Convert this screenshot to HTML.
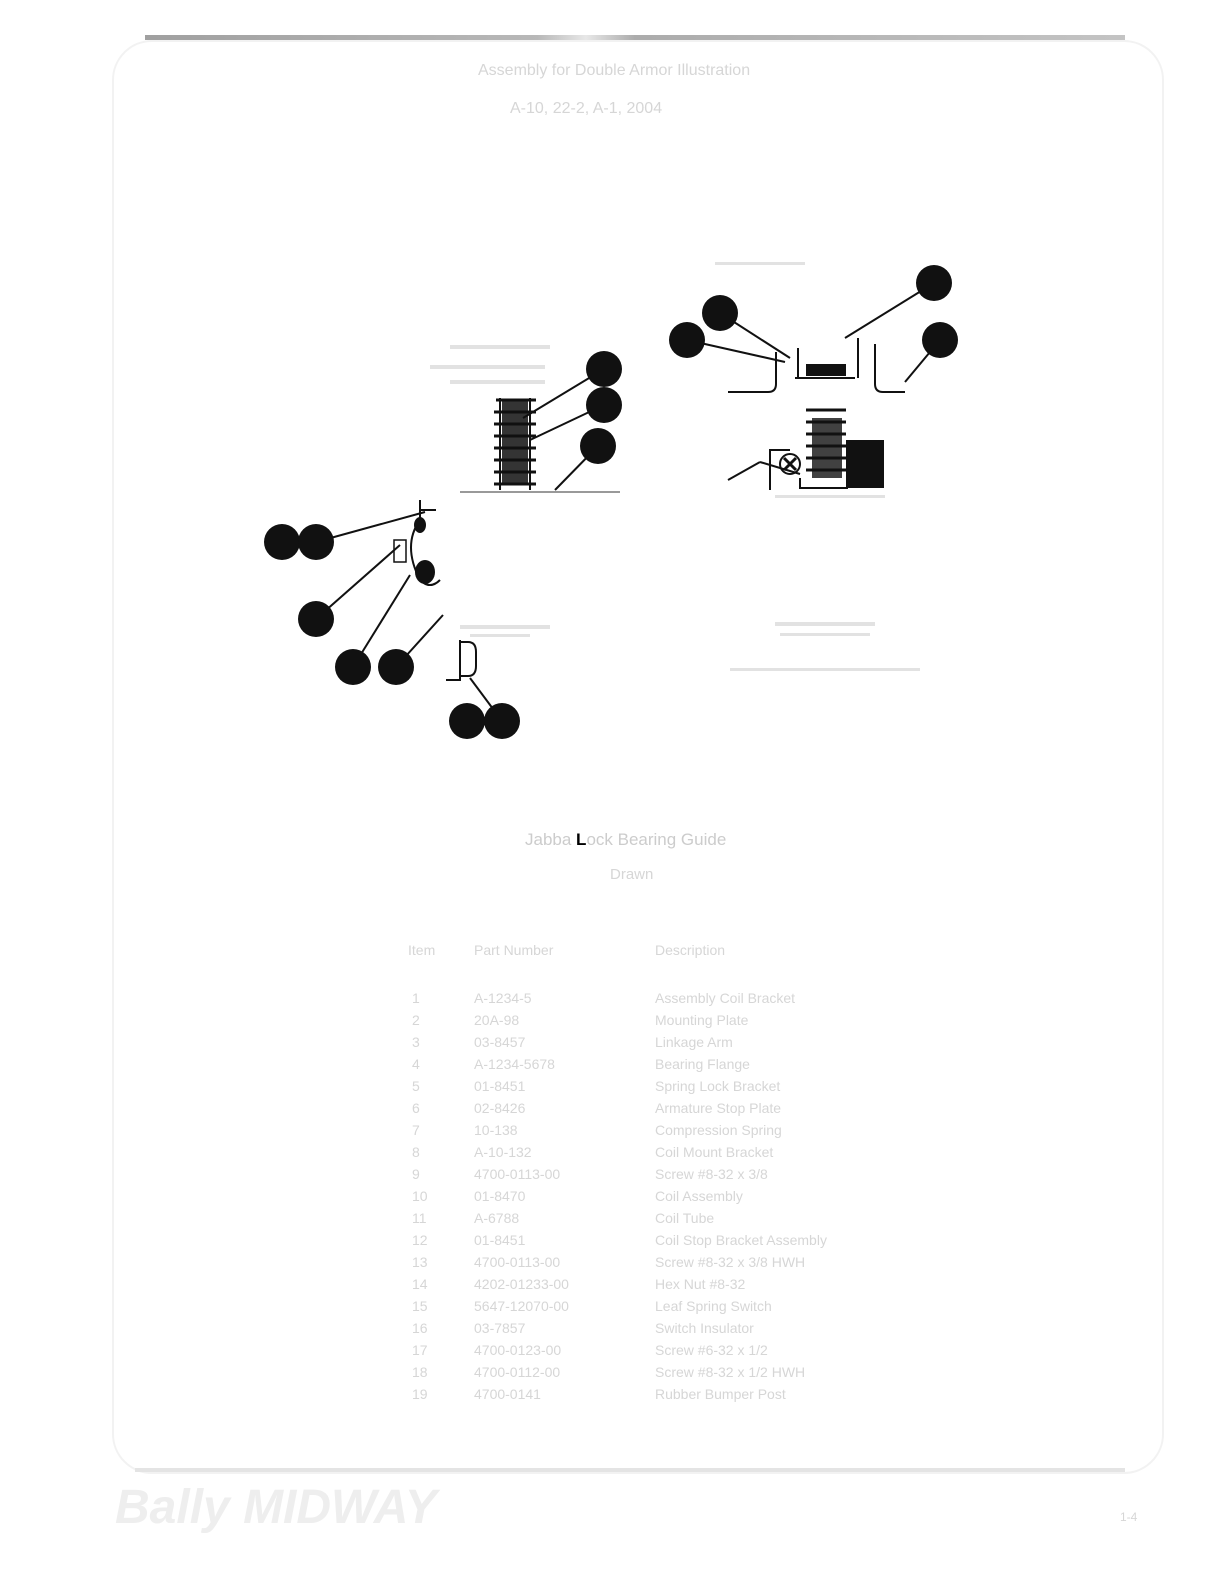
<!DOCTYPE html>
<html><head><meta charset="utf-8">
<style>
html,body{margin:0;padding:0;background:#fff;}
body{width:1224px;height:1584px;position:relative;overflow:hidden;font-family:"Liberation Sans",sans-serif;}
.t{position:absolute;color:#d6d6d6;font-size:14px;white-space:nowrap;}
</style></head><body>
<div style="position:absolute;left:112px;top:40px;width:1048px;height:1430px;border:2px solid #f2f2f2;border-radius:40px;"></div>
<div style="position:absolute;left:145px;top:35px;width:980px;height:5px;background:linear-gradient(90deg,#777 0,#999 40%,#ddd 45%,#888 50%,#aaa 100%);opacity:.7"></div>
<div style="position:absolute;left:135px;top:1468px;width:990px;height:4px;background:#e4e4e4;"></div>
<div class="t" style="left:478px;top:62px;font-size:16px;">Assembly for Double Armor Illustration</div>
<div class="t" style="left:510px;top:100px;font-size:16px;">A-10, 22-2, A-1, 2004</div>
<div class="t" style="left:525px;top:830px;font-size:17px;color:#ccc">Jabba <b style="color:#000">L</b>ock Bearing Guide</div>
<div class="t" style="left:610px;top:866px;font-size:15px;">Drawn</div>
<div class="t" style="left:408px;top:942px;">Item</div>
<div class="t" style="left:474px;top:942px;">Part Number</div>
<div class="t" style="left:655px;top:942px;">Description</div>
<div id="rows"></div>
<div class="t" style="left:115px;top:1480px;font-size:48px;font-style:italic;color:#eee;font-weight:bold;">Bally MIDWAY</div>
<div class="t" style="left:1120px;top:1510px;font-size:12px;">1-4</div>
<svg width="1224" height="1584" style="position:absolute;left:0;top:0">
<g stroke="#111" stroke-width="2" fill="none">
<line x1="604" y1="369" x2="523" y2="418"/><line x1="604" y1="405" x2="530" y2="440"/>
<line x1="598" y1="446" x2="555" y2="490"/><line x1="720" y1="313" x2="790" y2="358"/>
<line x1="687" y1="340" x2="785" y2="362"/><line x1="934" y1="283" x2="845" y2="338"/>
<line x1="940" y1="340" x2="905" y2="382"/><line x1="316" y1="542" x2="425" y2="512"/>
<line x1="316" y1="619" x2="400" y2="545"/><line x1="353" y1="667" x2="410" y2="575"/>
<line x1="396" y1="667" x2="443" y2="615"/><line x1="502" y1="721" x2="470" y2="678"/>
<line x1="728" y1="480" x2="760" y2="462"/><line x1="760" y1="462" x2="800" y2="474"/>
<!-- left spring -->
<path d="M496 400 h40 M494 412 h42 M494 424 h42 M494 436 h42 M494 448 h42 M494 460 h42 M494 472 h42 M494 484 h42" stroke-width="3"/>
<line x1="500" y1="398" x2="500" y2="490"/><line x1="530" y1="398" x2="530" y2="490"/>
<line x1="460" y1="492" x2="620" y2="492" stroke="#999"/>
<!-- right top part -->
<path d="M728 392 h40 q8 0 8 -8 v-32 M905 392 h-22 q-8 0 -8 -8 v-40 M798 378 v-30 M858 378 v-40" stroke-width="2"/>
<path d="M795 378 h60"/>
<path d="M806 422 h40 M806 434 h40 M806 446 h40 M806 458 h40 M806 470 h40 M806 410 h40" stroke-width="3"/>
<path d="M770 490 v-40 h20 M800 478 v10 h48"/>
<circle cx="790" cy="464" r="10" stroke-width="2"/>
<path d="M784 458 l12 12 M796 458 l-12 12" stroke-width="3"/>
<!-- left clip -->
<path d="M420 500 v30 M420 510 h16" />
<path d="M420 520 q-18 25 0 60 q10 10 20 0"/>
<rect x="394" y="540" width="12" height="22" stroke-width="1.5"/>
<path d="M460 640 v40 h-14 M460 642 h8 q8 0 8 10 v14 q0 10 -8 10 h-8"/>
</g>
<g fill="#111">
<rect x="806" y="364" width="40" height="12"/>
<rect x="846" y="440" width="38" height="48"/>
<rect x="812" y="418" width="30" height="60" opacity=".8"/>
<rect x="502" y="400" width="26" height="84" opacity=".85"/>
<ellipse cx="420" cy="525" rx="6" ry="8"/><ellipse cx="425" cy="572" rx="10" ry="12"/>
<circle cx="604" cy="369" r="18"/><circle cx="604" cy="405" r="18"/><circle cx="598" cy="446" r="18"/>
<circle cx="720" cy="313" r="18"/><circle cx="687" cy="340" r="18"/><circle cx="934" cy="283" r="18"/>
<circle cx="940" cy="340" r="18"/><circle cx="282" cy="542" r="18"/><circle cx="316" cy="542" r="18"/>
<circle cx="316" cy="619" r="18"/><circle cx="353" cy="667" r="18"/><circle cx="396" cy="667" r="18"/>
<circle cx="467" cy="721" r="18"/><circle cx="502" cy="721" r="18"/>
</g>
<g fill="#e2e2e2">
<rect x="450" y="345" width="100" height="4"/><rect x="430" y="365" width="115" height="4"/>
<rect x="450" y="380" width="95" height="4"/><rect x="460" y="625" width="90" height="4"/>
<rect x="470" y="634" width="60" height="3"/><rect x="775" y="622" width="100" height="4"/>
<rect x="780" y="633" width="90" height="3"/><rect x="730" y="668" width="190" height="3"/>
<rect x="715" y="262" width="90" height="3"/><rect x="775" y="495" width="110" height="3"/>
</g>
</svg>
<script>
var n=["1","2","3","4","5","6","7","8","9","10","11","12","13","14","15","16","17","18","19"];
var p=["A-1234-5","20A-98","03-8457","A-1234-5678","01-8451","02-8426","10-138","A-10-132","4700-0113-00","01-8470","A-6788","01-8451","4700-0113-00","4202-01233-00","5647-12070-00","03-7857","4700-0123-00","4700-0112-00","4700-0141"];
var d=["Assembly Coil Bracket","Mounting Plate","Linkage Arm","Bearing Flange","Spring Lock Bracket","Armature Stop Plate","Compression Spring","Coil Mount Bracket","Screw #8-32 x 3/8","Coil Assembly","Coil Tube","Coil Stop Bracket Assembly","Screw #8-32 x 3/8 HWH","Hex Nut #8-32","Leaf Spring Switch","Switch Insulator","Screw #6-32 x 1/2","Screw #8-32 x 1/2 HWH","Rubber Bumper Post"];
var h="";for(var i=0;i<19;i++){var y=990+i*22;h+='<div class="t" style="left:412px;top:'+y+'px">'+n[i]+'</div><div class="t" style="left:474px;top:'+y+'px">'+p[i]+'</div><div class="t" style="left:655px;top:'+y+'px">'+d[i]+'</div>';}
document.getElementById("rows").innerHTML=h;
</script>
</body></html>
